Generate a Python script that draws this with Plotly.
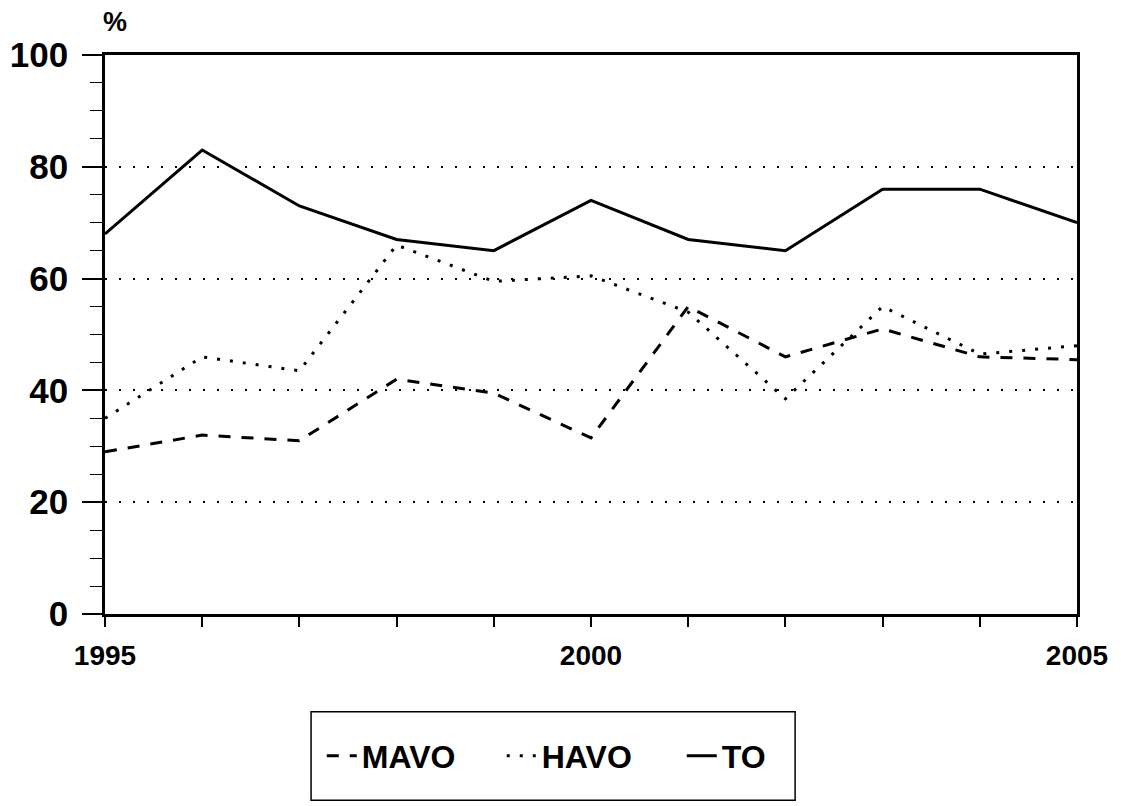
import plotly.graph_objects as go

# Percentages per school type, 1995-2005
years = [1995, 1996, 1997, 1998, 1999, 2000, 2001, 2002, 2003, 2004, 2005]
mavo = [29, 32, 31, 42, 39.5, 31.5, 55, 46, 51, 46, 45.5]
havo = [35, 46, 43.5, 66, 59.5, 60.5, 54, 38.5, 55, 46.5, 48]
to = [68, 83, 73, 67, 65, 74, 67, 65, 76, 76, 70]

x_ticks = years
x_labels = ["1995", "", "", "", "", "2000", "", "", "", "", "2005"]
y_ticks = [0, 20, 40, 60, 80, 100]

FONT = "Liberation Sans"

fig = go.Figure()
fig.add_trace(go.Scatter(x=years, y=mavo, name="MAVO", mode="lines",
                         line=dict(color="black", width=3, dash="12px,11px")))
fig.add_trace(go.Scatter(x=years, y=havo, name="HAVO", mode="lines",
                         line=dict(color="black", width=3, dash="3px,10px")))
fig.add_trace(go.Scatter(x=years, y=to, name="TO", mode="lines",
                         line=dict(color="black", width=3)))

fig.update_layout(
    width=1121, height=806,
    margin=dict(l=105, r=44, t=55, b=192),
    paper_bgcolor="white", plot_bgcolor="white",
    showlegend=True,
    legend=dict(orientation="h", xanchor="left", x=0.223,
                yanchor="middle", y=-0.254,
                font=dict(family=FONT, size=32, color="black", weight="bold"),
                bgcolor="rgba(0,0,0,0)", borderwidth=0,
                itemwidth=30, tracegroupgap=0, entrywidth=135),
    shapes=[dict(type="rect", xref="paper", yref="paper",
                 x0=0.212, x1=0.710, y0=-0.333, y1=-0.175,
                 line=dict(color="black", width=1.5))],
    annotations=[dict(text="%", xref="paper", yref="paper", x=0.0103, y=1.059,
                      showarrow=False, xanchor="center", yanchor="middle",
                      font=dict(family=FONT, size=27, color="black", weight="bold"))],
)

fig.update_xaxes(
    range=[1995, 2005], tickmode="array", tickvals=x_ticks, ticktext=x_labels,
    ticks="outside", ticklen=10, tickwidth=1.5, tickcolor="black",
    showline=True, linecolor="black", linewidth=2.5, mirror=True,
    showgrid=False, zeroline=False, ticklabelstandoff=5, automargin=False,
    tickfont=dict(family=FONT, size=28, color="black", weight="bold"),
)
fig.update_yaxes(
    range=[0, 100], tickmode="array", tickvals=y_ticks,
    ticks="outside", ticklen=20, tickwidth=1.5, tickcolor="black",
    minor=dict(dtick=5, ticks="outside", ticklen=12, tickwidth=1.2,
               tickcolor="black", showgrid=False),
    showline=True, linecolor="black", linewidth=2.5, mirror=True,
    showgrid=True, gridcolor="black", gridwidth=1.8, griddash="2px,12px",
    zeroline=False, ticklabelstandoff=7, automargin=False,
    tickfont=dict(family=FONT, size=35, color="black", weight="bold"),
)

fig.write_html("out.html")
